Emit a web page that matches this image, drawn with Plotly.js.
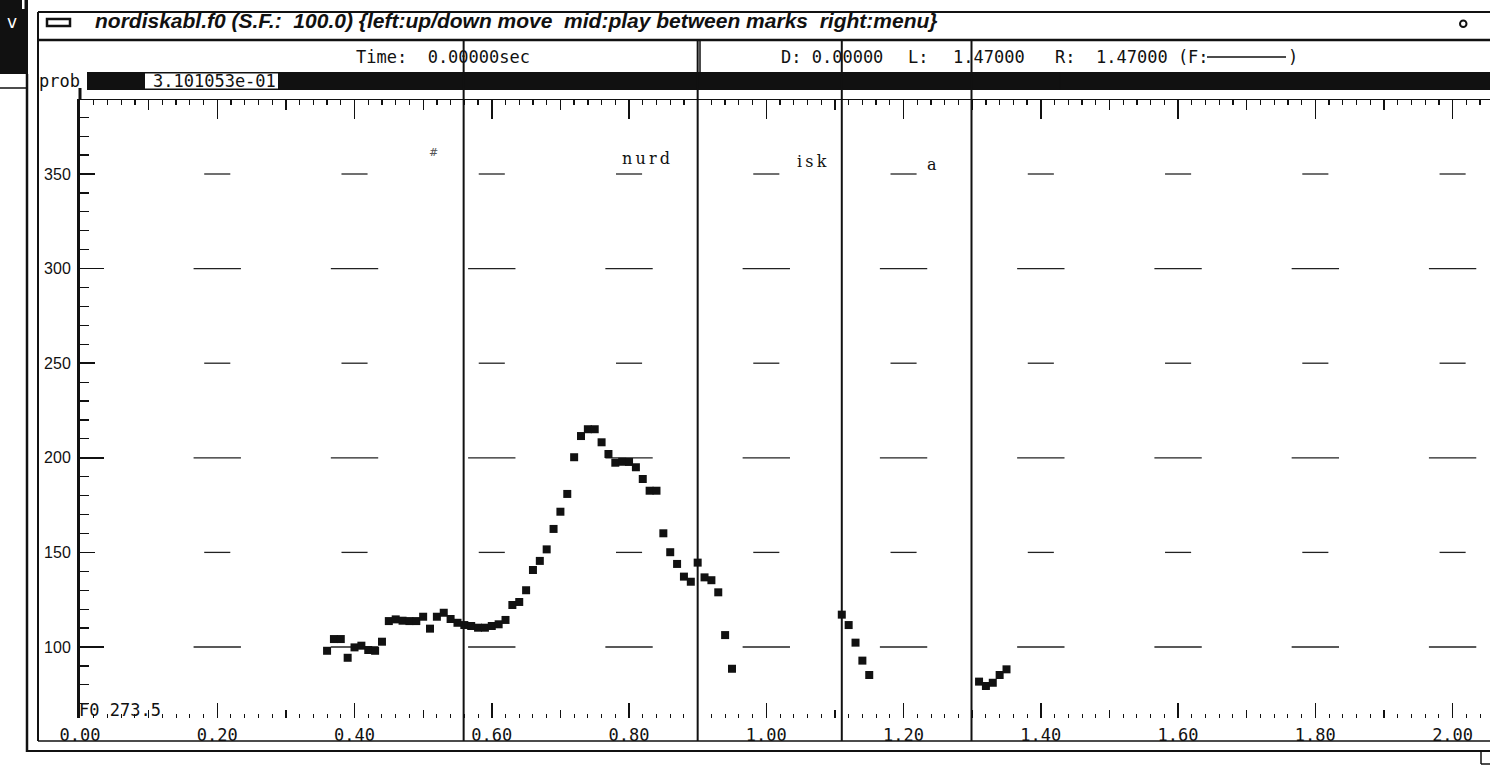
<!DOCTYPE html>
<html>
<head>
<meta charset="utf-8">
<script src="https://cdn.plot.ly/plotly-3.0.1.min.js"></script>
<style>
html,body{margin:0;padding:0;background:#fff;}
#chart{width:1490px;height:769px;}
</style>
</head>
<body>
<div id="chart"></div>
<script>
// ---------- data ----------
const f0Times = [0.36,0.37,0.38,0.39,0.40,0.41,0.42,0.43,0.44,0.45,0.46,0.47,0.48,0.49,0.50,0.51,0.52,0.53,0.54,0.55,
  0.56,0.57,0.58,0.59,0.60,0.61,0.62,0.63,0.64,0.65,0.66,0.67,0.68,0.69,0.70,0.71,0.72,0.73,0.74,0.75,
  0.76,0.77,0.78,0.79,0.80,0.81,0.82,0.83,0.84,0.85,0.86,0.87,0.88,0.89,0.90,0.91,0.92,0.93,0.94,0.95,
  1.11,1.12,1.13,1.14,1.15,
  1.31,1.32,1.33,1.34,1.35];
const f0Values = [98.0,104.2,104.2,94.3,99.8,100.7,98.4,98.0,102.8,113.7,114.6,113.9,113.7,113.7,116.0,109.7,116.0,118.1,114.8,112.8,
  111.6,111.1,110.2,110.2,111.1,112.0,114.3,122.2,123.8,130.0,140.7,145.5,151.6,162.4,171.5,180.9,200.3,211.5,215.1,215.1,
  208.2,202.0,197.4,197.9,197.8,195.0,188.8,182.6,182.6,160.1,150.1,143.9,137.2,134.5,144.6,136.8,135.3,128.9,106.3,88.5,
  117.1,111.6,102.3,92.8,85.2,
  81.7,79.4,81.1,85.2,88.2];
const boundaryTimes = [0.559, 0.900, 1.110, 1.299];
const segLabels = ['#', 'nurd', 'isk', 'a'];
const labelTimes = [0.515, 0.824, 1.066, 1.241];
const timeTicks = [0.0,0.2,0.4,0.6,0.8,1.0,1.2,1.4,1.6,1.8,2.0];
const timeTickLabels = ['0.00','0.20','0.40','0.60','0.80','1.00','1.20','1.40','1.60','1.80','2.00'];
const halfTicks = [0.1,0.3,0.5,0.7,0.9,1.1,1.3,1.5,1.7,1.9];
const f0Ticks = [100,150,200,250,300,350];
const f0TickLabels = ['100','150','200','250','300','350'];
const f0LongTicks = [100,200,300];
const gridTimes = [0.2,0.4,0.6,0.8,1.0,1.2,1.4,1.6,1.8,2.0];
const titleText = 'nordiskabl.f0 (S.F.:  100.0) {left:up/down move  mid:play between marks  right:menu}';
const probLabel = 'prob';
const probValue = '3.101053e-01';
const timeText = 'Time:  0.00000sec';
const dText = 'D: 0.00000';
const lText = '1.47000';
const rText = '1.47000 (F:';
const f0Info = 'F0 273.5';

// ---------- geometry ----------
const L = 80, R = 1490, T = 100, B = 718;
const PXS = 686.3;                 // pixels per second
const YPX = 1.892;                 // pixels per Hz
const xRange = [0, (R - L) / PXS];
const yRange = [100 - (B - 647) / YPX, 100 + (647 - T) / YPX];
const px = x => (x - L) / (R - L);
const py = y => (B - y) / (B - T);
const MONO = 'DejaVu Sans Mono';
const INK = '#111';

// grid dashes built from tick arrays
const gx = [], gy = [];
f0Ticks.forEach(f => {
  const w = (f % 100 === 0) ? 0.0345 : 0.019;
  gridTimes.forEach(t => { gx.push(t - w, t + w, null); gy.push(f, f, null); });
});

const traces = [
  {x: gx, y: gy, mode: 'lines', line: {color: '#222', width: 1.3}, hoverinfo: 'skip', showlegend: false},
  {x: f0Times, y: f0Values, mode: 'markers', type: 'scatter', name: 'F0',
   marker: {symbol: 'square', size: 8, color: INK}, cliponaxis: false, showlegend: false},
  {x: [], y: [], xaxis: 'x2', yaxis: 'y', showlegend: false},
  {x: [], y: [], xaxis: 'x3', yaxis: 'y', showlegend: false},
  {x: [], y: [], xaxis: 'x4', yaxis: 'y', showlegend: false},
  {x: [], y: [], xaxis: 'x', yaxis: 'y2', showlegend: false}
];

const shapes = [];
function hline(x0, x1, y, w) { shapes.push({type:'line', xref:'paper', yref:'paper', x0:px(x0), x1:px(x1), y0:py(y), y1:py(y), line:{color:INK, width:w}}); }
function vline(x, y0, y1, w) { shapes.push({type:'line', xref:'paper', yref:'paper', x0:px(x), x1:px(x), y0:py(y0), y1:py(y1), line:{color:INK, width:w}}); }
function rect(x0, x1, y0, y1, fill, lw) { shapes.push({type:'rect', xref:'paper', yref:'paper', x0:px(x0), x1:px(x1), y0:py(y0), y1:py(y1), fillcolor:fill, line:{color:lw ? INK : fill, width:lw || 0}}); }

// window chrome
rect(0, 28, 0, 74, INK, 0);
rect(22, 24.5, 0, 9, '#fff', 0);
hline(0, 27, 88, 1.5);
vline(27, 74, 752, 2.5);
vline(38, 12, 741, 2);
hline(38, 1490, 12, 2);
hline(38, 1490, 40, 2.5);
hline(38, 1490, 741, 1.5);
hline(27, 1490, 751, 2);
vline(1481, 752, 764, 1.5);
hline(1481, 1490, 764, 1.5);
rect(47, 70, 19, 26, '#fff', 2.5);
shapes.push({type:'circle', xref:'paper', yref:'paper', x0:px(1460), x1:px(1466.5), y0:py(20.5), y1:py(27), line:{color:INK, width:2}});
vline(700, 40, 72, 1.5);
vline(80, 88, 100, 3);
// prob bar
rect(87, 1490, 72, 90, INK, 0);
rect(145, 278, 73.5, 88.5, '#fff', 0);
vline(1060, 72, 90, 1.5);
hline(1207, 1286, 57, 1.5);

// segment boundaries (data x)
boundaryTimes.forEach(t => {
  shapes.push({type:'line', xref:'x', yref:'paper', x0:t, x1:t, y0:py(741), y1:py(40), line:{color:INK, width:2}, layer:'above'});
});

const annotations = [];
function txt(s, x, y, opts) {
  annotations.push(Object.assign({text:s, xref:'paper', yref:'paper', x:px(x), y:py(y), xanchor:'left', yanchor:'middle',
    showarrow:false, font:{family:MONO, size:17, color:INK}}, opts || {}));
}
txt('v', 5, 22, {font:{family:'DejaVu Sans', size:17, color:'#fff'}});
txt(probLabel, 37, 81);
txt(probValue, 151, 81);
txt(timeText, 354, 57);
txt(dText, 779, 57);
txt('L:', 906, 57);
txt(lText, 951, 57);
txt('R:', 1053, 57);
txt(rText, 1094, 57);
txt(')', 1286, 57);
txt(f0Info, 77, 710);

const labelY = [152, 158, 161, 164];
segLabels.forEach((s, i) => {
  const spaced = s.split('').join('\u2009');
  annotations.push({text: spaced, xref:'x', yref:'paper', x: labelTimes[i], y: py(labelY[i]), xanchor:'center', yanchor:'middle',
    showarrow:false, font:{family:'DejaVu Serif', size: i === 0 ? 11 : 16, color: i === 0 ? '#555' : INK}});
});

const tickCommon = {ticks:'inside', tickcolor:INK, showgrid:false, zeroline:false};
const layout = {
  width: 1490, height: 769,
  margin: {l: L, r: 1490 - R, t: T, b: 769 - B, pad: 0},
  paper_bgcolor: '#fff', plot_bgcolor: '#fff',
  showlegend: false,
  title: {text: titleText, xref:'container', yref:'container', x: 95/1490, xanchor:'left', y: 1 - 21/769, yanchor:'middle',
          font: {family:'Liberation Sans', size: 21, style:'italic', weight: 'bold', color: INK}},
  xaxis: Object.assign({}, tickCommon, {range: xRange, tickmode:'array',
    tickvals: timeTicks, ticktext: timeTickLabels, ticklen: 15, tickwidth: 1.5,
    tickfont: {family: MONO, size: 17, color: INK}, ticklabelstandoff: 5,
    showline: false,
    minor: {dtick: 0.02, tick0: 0, ticks: 'inside', ticklen: 4, tickcolor: INK, tickwidth: 1}}),
  xaxis2: Object.assign({}, tickCommon, {range: xRange, overlaying:'x', anchor:'y', side:'bottom', tickmode:'array',
    tickvals: halfTicks, ticklen: 8, tickwidth: 1.3, showticklabels: false, showline: false}),
  xaxis3: Object.assign({}, tickCommon, {range: xRange, overlaying:'x', anchor:'y', side:'top', tickmode:'array',
    tickvals: halfTicks, ticklen: 10, tickwidth: 1.3, showticklabels: false, showline: true, linecolor: INK, linewidth: 1.5,
    minor: {dtick: 0.02, tick0: 0, ticks: 'inside', ticklen: 5, tickcolor: INK, tickwidth: 1.3}}),
  xaxis4: Object.assign({}, tickCommon, {range: xRange, overlaying:'x', anchor:'y', side:'top', tickmode:'array',
    tickvals: timeTicks, ticklen: 19, tickwidth: 1.5, showticklabels: false, showline: false}),
  yaxis: Object.assign({}, tickCommon, {range: yRange, tickmode:'array', tickvals: f0Ticks, ticktext: f0TickLabels,
    ticklen: 15, tickwidth: 1.5, tickfont: {family:'Liberation Sans', size: 16, color: INK}, ticklabelstandoff: 3,
    showline: true, linecolor: INK, linewidth: 3,
    minor: {dtick: 10, tick0: 0, ticks: 'inside', ticklen: 9, tickcolor: INK, tickwidth: 1.2}}),
  yaxis2: Object.assign({}, tickCommon, {range: yRange, overlaying:'y', anchor:'x', side:'left', tickmode:'array',
    tickvals: f0LongTicks, ticklen: 24, tickwidth: 1.5, showticklabels: false, showline: false}),
  shapes: shapes,
  annotations: annotations
};

Plotly.newPlot('chart', traces, layout, {staticPlot: true, displayModeBar: false});
</script>
</body>
</html>
